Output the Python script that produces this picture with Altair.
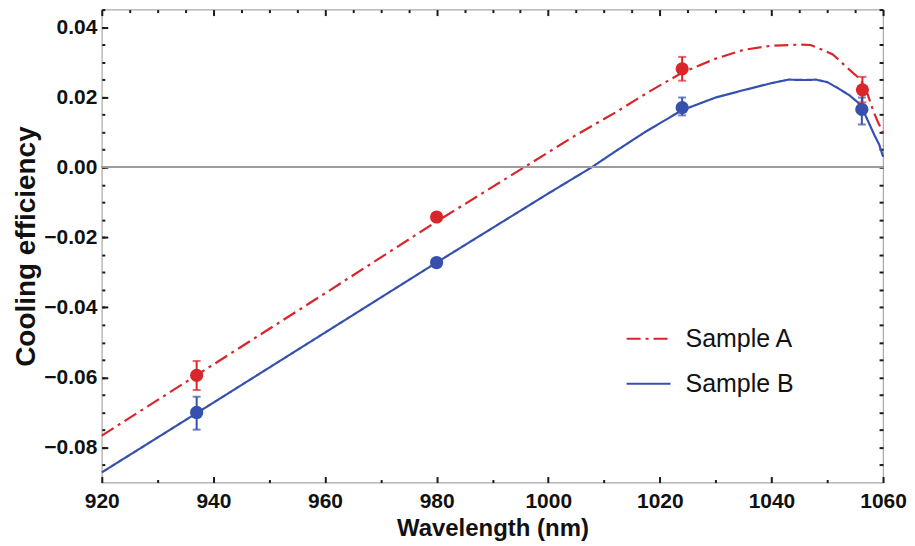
import altair as alt
import pandas as pd

# ---- data ----
SAMPLES = ["Sample A", "Sample B"]

WL_A = [920, 940, 960, 980, 995.7, 1005, 1012, 1018, 1024, 1030, 1035, 1040, 1045,
        1047, 1049, 1051, 1052.5, 1054, 1056, 1057.2, 1058.3, 1059.2, 1060]
CE_A = [-0.0766, -0.0563, -0.0360, -0.0155, 0.0, 0.0092, 0.0156, 0.0215, 0.0270,
        0.0310, 0.0335, 0.0347, 0.0350, 0.0349, 0.0336, 0.0322, 0.0300, 0.0278,
        0.0250, 0.0210, 0.0158, 0.0125, 0.0099]

WL_B = [920, 940, 960, 980, 1000, 1007.8, 1012, 1017.5, 1024, 1030, 1035, 1040, 1043,
        1046, 1048, 1050, 1052, 1054, 1055.5, 1056.5, 1057.5, 1058.5, 1059.3, 1060]
CE_B = [-0.0871, -0.0672, -0.0472, -0.0272, -0.0075, 0.0, 0.0045, 0.0102, 0.0163,
        0.0199, 0.0220, 0.0240, 0.0250, 0.0249, 0.0250, 0.0243, 0.0225, 0.0205,
        0.0185, 0.0160, 0.0125, 0.0090, 0.0065, 0.0030]

PT_WL_A = [937, 980, 1024, 1056.3]
PT_CE_A = [-0.0594, -0.0142, 0.0281, 0.0221]
PT_LO_A = [-0.0636, -0.0150, 0.0247, 0.0185]
PT_HI_A = [-0.0553, -0.0134, 0.0315, 0.0258]

PT_WL_B = [937, 980, 1024, 1056.2]
PT_CE_B = [-0.0700, -0.0272, 0.0170, 0.0165]
PT_LO_B = [-0.0749, -0.0280, 0.0148, 0.0122]
PT_HI_B = [-0.0655, -0.0264, 0.0199, 0.0199]

X_TICKS = list(range(920, 1061, 5))
Y_MAJOR = [-0.08, -0.06, -0.04, -0.02, 0.0, 0.02, 0.04]
Y_TICKS = [round(-0.085 + 0.005 * i, 3) for i in range(27)]

# ---- style ----
FONT = "Liberation Sans"
RED = "#d8262b"
BLUE = "#3550ad"
TICK = "#1a1a1a"

lines_df = pd.concat([
    pd.DataFrame({"wl": WL_A, "ce": CE_A, "sample": SAMPLES[0]}),
    pd.DataFrame({"wl": WL_B, "ce": CE_B, "sample": SAMPLES[1]}),
], ignore_index=True)

pts_df = pd.concat([
    pd.DataFrame({"wl": PT_WL_A, "ce": PT_CE_A, "lo": PT_LO_A, "hi": PT_HI_A, "sample": SAMPLES[0]}),
    pd.DataFrame({"wl": PT_WL_B, "ce": PT_CE_B, "lo": PT_LO_B, "hi": PT_HI_B, "sample": SAMPLES[1]}),
], ignore_index=True)

x_scale = alt.Scale(domain=[920, 1060], nice=False, zero=False)
y_scale = alt.Scale(domain=[-0.09, 0.045], nice=False, zero=False)
color_scale = alt.Scale(domain=SAMPLES, range=[RED, BLUE])
dash_scale = alt.Scale(domain=SAMPLES, range=[[14, 5, 3, 5], [1, 0]])

MAJ_X = "datum.value % 20 === 0"

x_axis = alt.Axis(
    values=X_TICKS, format="d",
    labelExpr=f"{MAJ_X} ? datum.label : ''",
    tickSize={"expr": f"{MAJ_X} ? -6 : -3"},
    tickWidth=2, tickColor=TICK, domain=False, grid=False,
    labelFont=FONT, labelFontSize=21, labelFontWeight="bold", labelColor="#111",
    labelPadding=14, labelFlush=False, labelOverlap=False,
    title="Wavelength (nm)", titleFont=FONT, titleFontSize=24, titleFontWeight="bold",
    titleColor="#111", titlePadding=2,
)
y_axis = alt.Axis(
    values=Y_MAJOR, format=".2f",
    tickSize={"expr": "-6"},
    tickWidth=2, tickColor=TICK, domain=False, grid=False,
    labelFont=FONT, labelFontSize=21, labelFontWeight="bold", labelColor="#111",
    labelPadding=11, labelFlush=False, labelOverlap=False,
    title="Cooling efficiency", titleFont=FONT, titleFontSize=28, titleFontWeight="bold",
    titleColor="#111", titlePadding=3,
)

lines = alt.Chart(lines_df).mark_line(strokeWidth=2.2).encode(
    x=alt.X("wl:Q", scale=x_scale, axis=x_axis),
    y=alt.Y("ce:Q", scale=y_scale, axis=y_axis),
    color=alt.Color("sample:N", scale=color_scale, legend=alt.Legend(
        orient="none", legendX=525, legendY=307, title=None, padding=0,
        symbolType="stroke", symbolSize=1936, symbolStrokeWidth=2,
        labelFont=FONT, labelFontSize=25, labelColor="#111", labelOffset=14,
        rowPadding=9,
    )),
    strokeDash=alt.StrokeDash("sample:N", scale=dash_scale, legend=None),
    detail="sample:N",
)

zero = alt.Chart(lines_df).mark_rule(color="#9c9c9c", strokeWidth=1.5).encode(
    y=alt.datum(0)
)

errbars = alt.Chart(pts_df).mark_rule(strokeWidth=2).encode(
    x=alt.X("wl:Q"),
    y=alt.Y("lo:Q"),
    y2="hi:Q",
    color=alt.Color("sample:N", legend=None),
)
caps_lo = alt.Chart(pts_df).mark_tick(orient="horizontal", size=8, thickness=2).encode(
    x=alt.X("wl:Q"),
    y=alt.Y("lo:Q"),
    color=alt.Color("sample:N", legend=None),
)
caps_hi = alt.Chart(pts_df).mark_tick(orient="horizontal", size=8, thickness=2).encode(
    x=alt.X("wl:Q"),
    y=alt.Y("hi:Q"),
    color=alt.Color("sample:N", legend=None),
)
points = alt.Chart(pts_df).mark_circle(size=175, opacity=1).encode(
    x=alt.X("wl:Q"),
    y=alt.Y("ce:Q"),
    color=alt.Color("sample:N", legend=None),
)

main = alt.layer(lines, zero, errbars, caps_lo, caps_hi, points)

# top / right frame ticks (inward)
frame_tr = alt.Chart(pts_df).mark_point(opacity=0).encode(
    x=alt.X("wl:Q", scale=x_scale, axis=alt.Axis(
        orient="top", values=X_TICKS, labels=False, title=None, domain=False, grid=False,
        tickSize={"expr": f"{MAJ_X} ? -6 : -3"}, tickWidth=2, tickColor=TICK)),
    y=alt.Y("ce:Q", scale=y_scale, axis=alt.Axis(
        orient="right", values=Y_TICKS, labels=False, title=None, domain=False, grid=False,
        tickSize={"expr": "-4"}, tickWidth=2, tickColor=TICK)),
)

# left minor ticks (inward)
frame_l = alt.Chart(pts_df).mark_point(opacity=0).encode(
    y=alt.Y("ce:Q", scale=y_scale, axis=alt.Axis(
        orient="left", values=Y_TICKS, labels=False, title=None, domain=False, grid=False,
        tickSize={"expr": "-3"}, tickWidth=2, tickColor=TICK)),
)

chart = alt.layer(main, frame_tr, frame_l).resolve_scale(
    x="independent", y="independent"
).properties(
    width=783, height=474,
    padding={"left": 4, "top": 0, "right": 0, "bottom": 0},
    background="white",
).configure_view(stroke="#a8a8a8", strokeWidth=1.2)

chart.save("out.html", embed_options={"renderer": "svg", "actions": False})
